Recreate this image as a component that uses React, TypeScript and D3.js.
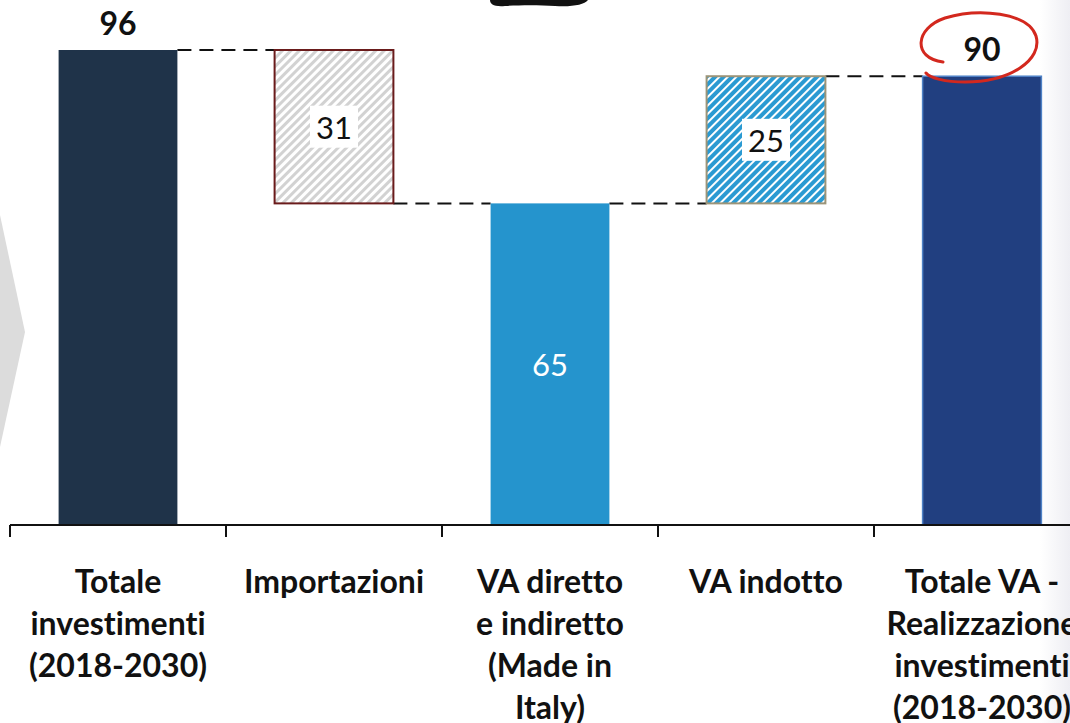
import React from "react";
import * as d3 from "d3";

// waterfall data (billions)
const categories = [
  "Totale investimenti (2018-2030)",
  "Importazioni",
  "VA diretto e indiretto (Made in Italy)",
  "VA indotto",
  "Totale VA - Realizzazione investimenti (2018-2030)",
];
const labelLines = [
  ["Totale", "investimenti", "(2018-2030)"],
  ["Importazioni"],
  ["VA diretto", "e indiretto", "(Made in", "Italy)"],
  ["VA indotto"],
  ["Totale VA -", "Realizzazione", "investimenti", "(2018-2030)"],
];
const values = [96, -31, 65, 25.7, 90.7];
const valueLabels = ["96", "31", "65", "25", "90"];
const kinds = ["total", "delta", "total", "delta", "total"];

const W = 1070;
const H = 723;
const FONT = "Lato, 'Open Sans', sans-serif";
const noLig = { fontVariantLigatures: "none" as const };

const App = () => {
  const x = d3
    .scaleBand<string>()
    .domain(categories)
    .range([10, 1090])
    .paddingInner(0.45)
    .paddingOuter(0.225);
  const y = d3.scaleLinear().domain([0, 96]).range([525, 50]);
  const step = x.step();

  // compute bar extents
  let run = 0;
  const bars = categories.map((c, i) => {
    const v = values[i];
    let y0, y1;
    if (kinds[i] === "total") {
      y0 = 0;
      y1 = v;
      run = v;
    } else if (v < 0) {
      y0 = run + v;
      y1 = run;
      run = run + v;
    } else {
      y0 = run;
      y1 = run + v;
      run = run + v;
    }
    return { c, i, v, y0, y1 };
  });

  // connectors between consecutive bars
  const links = bars.slice(0, -1).map((b, i) => {
    const next = bars[i + 1];
    let level;
    if (kinds[i] === "total") level = b.y1;
    else level = values[i] < 0 ? b.y0 : b.y1;
    return {
      x1: x(b.c)! + x.bandwidth(),
      x2: x(next.c)!,
      y: y(level),
    };
  });

  const fills = ["#1f3349", "url(#hatchGray)", "#2594cd", "url(#hatchBlue)", "#213f80"];
  const strokes = ["none", "#6a1b1b", "none", "#9c9478", "#4f82c6"];

  return (
    <svg width={W} height={H} style={{ position: "absolute", left: 0, top: 0 }}>
      <defs>
        <pattern id="hatchGray" patternUnits="userSpaceOnUse" width="6" height="6" patternTransform="rotate(45)">
          <rect width="6" height="6" fill="#ffffff" />
          <rect width="3" height="6" fill="#d2d2d2" />
        </pattern>
        <pattern id="hatchBlue" patternUnits="userSpaceOnUse" width="6" height="6" patternTransform="rotate(45)">
          <rect width="6" height="6" fill="#ffffff" />
          <rect width="4" height="6" fill="#2a9ad2" />
        </pattern>
        <linearGradient id="edge" x1="0" x2="1" y1="0" y2="0">
          <stop offset="0" stopColor="#ffffff" />
          <stop offset="1" stopColor="#eeeef3" />
        </linearGradient>
      </defs>
      <rect width={W} height={H} fill="#ffffff" />
      <rect x={1040} y={0} width={30} height={H} fill="url(#edge)" />

      {/* left chevron decoration */}
      <polygon points="0,215 25,332 0,447" fill="#dcdcdc" />
      {/* scribble at top */}
      <path d="M490,0 L588,0 C584,5 572,7 555,6 C540,5 520,5 505,6 C494,7 490,4 490,0 Z" fill="#111" />

      {/* connectors */}
      {links.map((l, i) => (
        <line key={i} x1={l.x1} x2={l.x2} y1={l.y} y2={l.y} stroke="#111" strokeWidth={2} strokeDasharray="14,8" />
      ))}

      {/* bars */}
      {bars.map((b) => (
        <rect
          key={b.c}
          x={x(b.c)}
          y={y(b.y1)}
          width={x.bandwidth()}
          height={y(b.y0) - y(b.y1)}
          fill={fills[b.i]}
          stroke={strokes[b.i]}
          strokeWidth={kinds[b.i] === "delta" ? 2 : 1.5}
        />
      ))}

      {/* value labels */}
      {bars.map((b) => {
        const cx = x(b.c)! + x.bandwidth() / 2;
        const label = valueLabels[b.i];
        if (b.i === 0 || b.i === 4) {
          return (
            <text key={b.c} x={cx} y={y(b.y1) - 15} textAnchor="middle" fontFamily={FONT} fontWeight="bold" fontSize={32} fill="#111">
              {label}
            </text>
          );
        }
        const cy = (y(b.y0) + y(b.y1)) / 2;
        if (kinds[b.i] === "delta") {
          return (
            <g key={b.c}>
              <rect x={cx - 24} y={cy - 21} width={48} height={42} fill="#ffffff" />
              <text x={cx} y={cy + 12} textAnchor="middle" fontFamily={FONT} fontSize={31} fill="#111">
                {label}
              </text>
            </g>
          );
        }
        return (
          <text key={b.c} x={cx} y={cy + 12} textAnchor="middle" fontFamily={FONT} fontSize={31} fill="#ffffff">
            {label}
          </text>
        );
      })}

      {/* red hand-drawn circle around total */}
      <path
        d="M943,62 C912,58 915,28 945,18 C978,8 1028,12 1036,36 C1043,60 1010,82 965,82 C945,82 930,78 926,73"
        fill="none"
        stroke="#d3281e"
        strokeWidth={3}
        strokeLinecap="round"
      />

      {/* x axis */}
      <line x1={10} x2={W} y1={525} y2={525} stroke="#111" strokeWidth={2} />
      {d3.range(categories.length + 1).map((i) => (
        <line key={i} x1={10 + i * step} x2={10 + i * step} y1={525} y2={537} stroke="#111" strokeWidth={2} />
      ))}
      {labelLines.map((lines, i) => (
        <text
          key={i}
          x={x(categories[i])! + x.bandwidth() / 2}
          y={593}
          textAnchor="middle"
          fontFamily={FONT}
          fontWeight="bold"
          fontSize={32}
          fill="#111"
          style={noLig}
        >
          {lines.map((ln, j) => (
            <tspan key={j} x={x(categories[i])! + x.bandwidth() / 2} dy={j === 0 ? 0 : 42}>
              {ln}
            </tspan>
          ))}
        </text>
      ))}
    </svg>
  );
};

export default App;
